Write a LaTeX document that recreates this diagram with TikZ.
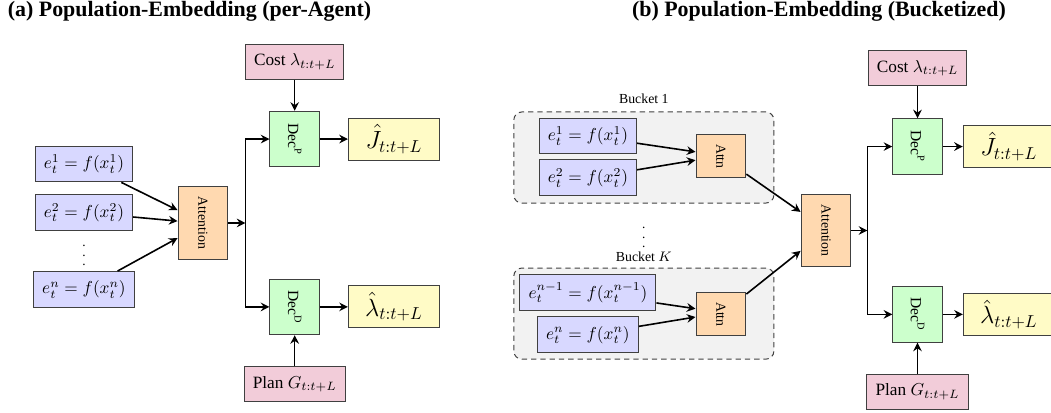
\documentclass[tikz,border=0pt]{standalone}
\usepackage{amsmath}
\usepackage{graphicx}
\usepackage{fontspec}
\setmainfont{Liberation Serif}
\newfontfamily\titlefam{Liberation Serif Bold}
\usepackage{tikz}
\usetikzlibrary{arrows.meta, positioning, calc, backgrounds}
\definecolor{embblue}{HTML}{D8D8FF}
\definecolor{attnorange}{HTML}{FFD9B0}
\definecolor{decgreen}{HTML}{CCFFCC}
\definecolor{outyellow}{HTML}{FFFBC6}
\definecolor{inpink}{HTML}{F2CCD9}
\definecolor{bucketgray}{HTML}{F2F2F2}
\definecolor{edgegray}{HTML}{404040}
% the whole drawing is read at 1.3 times its natural size
\newcommand{\upsc}[1]{\scalebox{1.3}{#1}}
\newcommand{\rot}[1]{\rotatebox{-90}{\upsc{\footnotesize #1}}}
\newcommand{\titlefont}{\titlefam\fontsize{16.5}{18}\selectfont}
\newcommand{\colldots}{\vbox{\baselineskip=7pt\lineskiplimit=0pt\hbox{.}\hbox{.}\hbox{.}}}

\begin{document}
\begin{tikzpicture}[
  node distance=0.8cm and 0.7cm,
  base/.style={rectangle, draw=edgegray, line width=0.75pt, align=center},
  emb/.style={base, fill=embblue, minimum height=0.95cm, inner xsep=6.5pt},
  attn/.style={base, fill=attnorange, minimum width=1.32cm, minimum height=1.92cm},
  attnsmall/.style={attn, minimum height=1.14cm},
  dec/.style={base, fill=decgreen, minimum width=1.31cm, minimum height=1.47cm},
  outbox/.style={base, fill=outyellow, minimum width=2.41cm, minimum height=1.11cm},
  inbox/.style={base, fill=inpink, minimum height=0.93cm, inner xsep=6.5pt},
  bucket/.style={rectangle, draw=edgegray, dash pattern=on 4pt off 3pt, line width=0.75pt, rounded corners=6pt, fill=bucketgray, minimum width=6.88cm, minimum height=2.41cm},
  bucketlbl/.style={inner sep=0pt},
  title/.style={font=\titlefont, inner sep=0pt, anchor=north},
  arrow/.style={-{Stealth[length=6.5pt,width=6.5pt,inset=2.2pt]}, line width=1.2pt, black}
]
  \useasboundingbox (-5.371,5.900) rectangle (22.438,-5.027);

  % (a) per-agent embedding
  \node[title] (titleA) at (-0.357,5.88) {(a) Population-Embedding (per-Agent)};
  \node[attn] (attnA) at (0,0) {\rot{Attention}};
  \coordinate[right=0.45cm of attnA] (jA);

  \node[emb] (eA1) at (-3.149,1.561) {\upsc{$e_t^1 = f(x_t^1)$}};
  \node[emb] (eA2) at (-3.149,0.278) {\upsc{$e_t^2 = f(x_t^2)$}};
  \node[emb] (eAn) at (-3.149,-1.76) {\upsc{$e_t^n = f(x_t^n)$}};
  \node (dotsA) at (-3.149,-0.86) {\colldots};

  \node[dec, anchor=west] (decPA) at ($(jA)+(0.635,2.22)$) {\rot{\small Dec\textsuperscript{P}}};
  \node[dec, anchor=west] (decDA) at ($(jA)+(0.635,-2.22)$) {\rot{\small Dec\textsuperscript{D}}};
  \node[outbox, right=0.74cm of decPA] (outJA) {\upsc{\Large $\hat{J}_{t:t+L}$}};
  \node[outbox, right=0.74cm of decDA] (outLA) {\upsc{\Large $\hat{\lambda}_{t:t+L}$}};
  \node[inbox, above=0.82cm of decPA] (costA) {\upsc{Cost $\lambda_{t:t+L}$}};
  \node[inbox, below=0.82cm of decDA] (planA) {\upsc{Plan $G_{t:t+L}$}};

  \draw[arrow] (eA1) -- ($(attnA.west)+(0,0.34)$);
  \draw[arrow] (eA2) -- ($(attnA.west)+(0,0.05)$);
  \draw[arrow] (eAn) -- ($(attnA.west)+(0,-0.40)$);
  \draw[arrow] (attnA) -- (jA);
  \draw[arrow] (jA) |- (decPA);
  \draw[arrow] (jA) |- (decDA);
  \draw[arrow] (decPA) -- (outJA);
  \draw[arrow] (decDA) -- (outLA);
  \draw[arrow] (costA) -- (decPA);
  \draw[arrow] (planA) -- (decDA);

  % (b) bucketized embedding
  \node[title] (titleB) at (16.30,5.88) {(b) Population-Embedding (Bucketized)};
  \node[attn] (attnB) at (16.485,-0.198) {\rot{Attention}};
  \coordinate[right=0.42cm of attnB] (jB);

  \node[bucket] (bucket1) at ($(attnB)+(-4.82,1.93)$) {};
  \node[bucket] (bucketK) at ($(attnB)+(-4.82,-2.20)$) {};
  \node[bucketlbl, above=0.21cm of bucket1] (lbl1) {\upsc{\footnotesize Bucket 1}};
  \node[bucketlbl, above=0.16cm of bucketK] (lblK) {\upsc{\footnotesize Bucket $K$}};
  \node (dotsB) at ($(attnB)+(-4.82,-0.19)$) {\colldots};

  \node[attnsmall] (attnB1) at ($(attnB)+(-2.78,1.96)$) {\rot{Attn}};
  \node[attnsmall] (attnBK) at ($(attnB)+(-2.78,-2.22)$) {\rot{Attn}};
  \node[emb] (eB1) at ($(attnB1)+(-3.52,0.54)$) {\upsc{$e_t^1 = f(x_t^1)$}};
  \node[emb] (eB2) at ($(attnB1)+(-3.52,-0.57)$) {\upsc{$e_t^2 = f(x_t^2)$}};
  \node[emb] (eBn1) at ($(attnBK)+(-3.52,0.57)$) {\upsc{$e_t^{n-1} = f(x_t^{n-1})$}};
  \node[emb] (eBn) at ($(attnBK)+(-3.52,-0.54)$) {\upsc{$e_t^n = f(x_t^n)$}};

  \node[dec, anchor=west] (decPB) at ($(jB)+(0.66,2.22)$) {\rot{\small Dec\textsuperscript{P}}};
  \node[dec, anchor=west] (decDB) at ($(jB)+(0.66,-2.22)$) {\rot{\small Dec\textsuperscript{D}}};
  \node[outbox, right=0.53cm of decPB] (outJB) {\upsc{\Large $\hat{J}_{t:t+L}$}};
  \node[outbox, right=0.53cm of decDB] (outLB) {\upsc{\Large $\hat{\lambda}_{t:t+L}$}};
  \node[inbox, above=0.85cm of decPB] (costB) {\upsc{Cost $\lambda_{t:t+L}$}};
  \node[inbox, below=0.82cm of decDB] (planB) {\upsc{Plan $G_{t:t+L}$}};

  \draw[arrow] (eB1) -- ($(attnB1.west)+(0,0.12)$);
  \draw[arrow] (eB2) -- ($(attnB1.west)+(0,-0.10)$);
  \draw[arrow] (eBn1) -- ($(attnBK.west)+(0,0.15)$);
  \draw[arrow] (eBn) -- ($(attnBK.west)+(0,-0.07)$);
  \draw[arrow] (attnB1) -- ($(attnB.west)+(0,0.49)$);
  \draw[arrow] (attnBK) -- ($(attnB.west)+(0,-0.54)$);
  \draw[arrow] (attnB) -- (jB);
  \draw[arrow] (jB) |- (decPB);
  \draw[arrow] (jB) |- (decDB);
  \draw[arrow] (decPB) -- (outJB);
  \draw[arrow] (decDB) -- (outLB);
  \draw[arrow] (costB) -- (decPB);
  \draw[arrow] (planB) -- (decDB);
\end{tikzpicture}
\end{document}
